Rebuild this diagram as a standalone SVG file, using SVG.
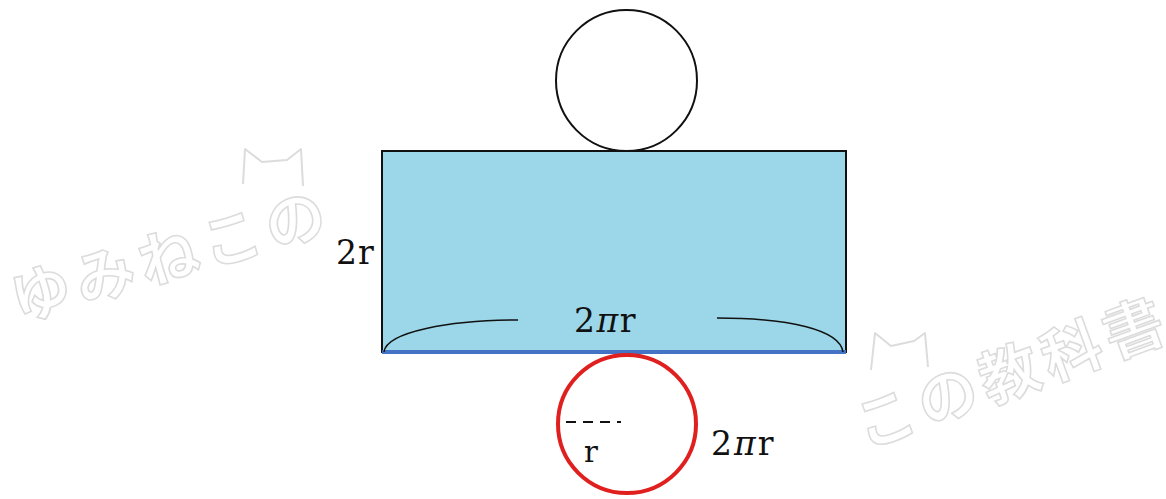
<svg xmlns="http://www.w3.org/2000/svg" width="1166" height="499" viewBox="0 0 1166 499">
<style>
.wm{font-family:"Noto Sans CJK JP","Noto Sans",sans-serif;font-size:60px;font-weight:bold;fill:#fff;stroke:#dcdcdc;stroke-width:1.6;letter-spacing:6px}
.ear{fill:none;stroke:#dcdcdc;stroke-width:2;stroke-linejoin:round}
.lbl{font-family:"DejaVu Serif","Liberation Serif",serif;fill:#111}
.pi{font-style:italic}
</style>
<rect width="1166" height="499" fill="#fff"/>
<g id="watermark">
<text class="wm" transform="translate(42,288) rotate(-16)" x="-32" y="0" dominant-baseline="central">ゆみねこの</text>
<path class="ear" d="M243,184 L245,149 L262,162 L287,160 L301,149 L303,186"/>
<text class="wm" transform="translate(882,415) rotate(-20)" x="-28" y="0" dominant-baseline="central" font-size="54" letter-spacing="3">この教科書</text>
<path class="ear" d="M871,370 L875,333 L891,346 L914,341 L925,333 L928,367"/>
</g>
<g id="top-circle">
<circle cx="626.5" cy="80.5" r="70.5" fill="#fff" stroke="#111" stroke-width="2"/>
</g>
<g id="rectangle">
<rect x="382" y="151" width="464" height="201" fill="#9BD7E8" stroke="#111" stroke-width="2"/>
<line x1="382" y1="352" x2="846" y2="352" stroke="#4472C4" stroke-width="4"/>
<text class="lbl" x="336" y="264" font-size="33" letter-spacing="1">2r</text>
</g>
<g id="connectors">
<path d="M384,352 C386,332 450,320 518,320" fill="none" stroke="#111" stroke-width="1.5"/>
<path d="M717,318 C790,318 840,330 843,352" fill="none" stroke="#111" stroke-width="1.5"/>
</g>
<g id="length-label">
<text class="lbl" x="574" y="332" font-size="33" letter-spacing="1.5">2<tspan class="pi">π</tspan>r</text>
</g>
<g id="bottom-circle">
<circle cx="627" cy="424" r="69" fill="#fff" stroke="#E0201E" stroke-width="4"/>
<line x1="566" y1="422" x2="621" y2="422" stroke="#111" stroke-width="1.8" stroke-dasharray="10,7"/>
<text class="lbl" x="584" y="462" font-size="29">r</text>
<text class="lbl" x="711" y="455" font-size="33" letter-spacing="2">2<tspan class="pi">π</tspan>r</text>
</g>
</svg>
